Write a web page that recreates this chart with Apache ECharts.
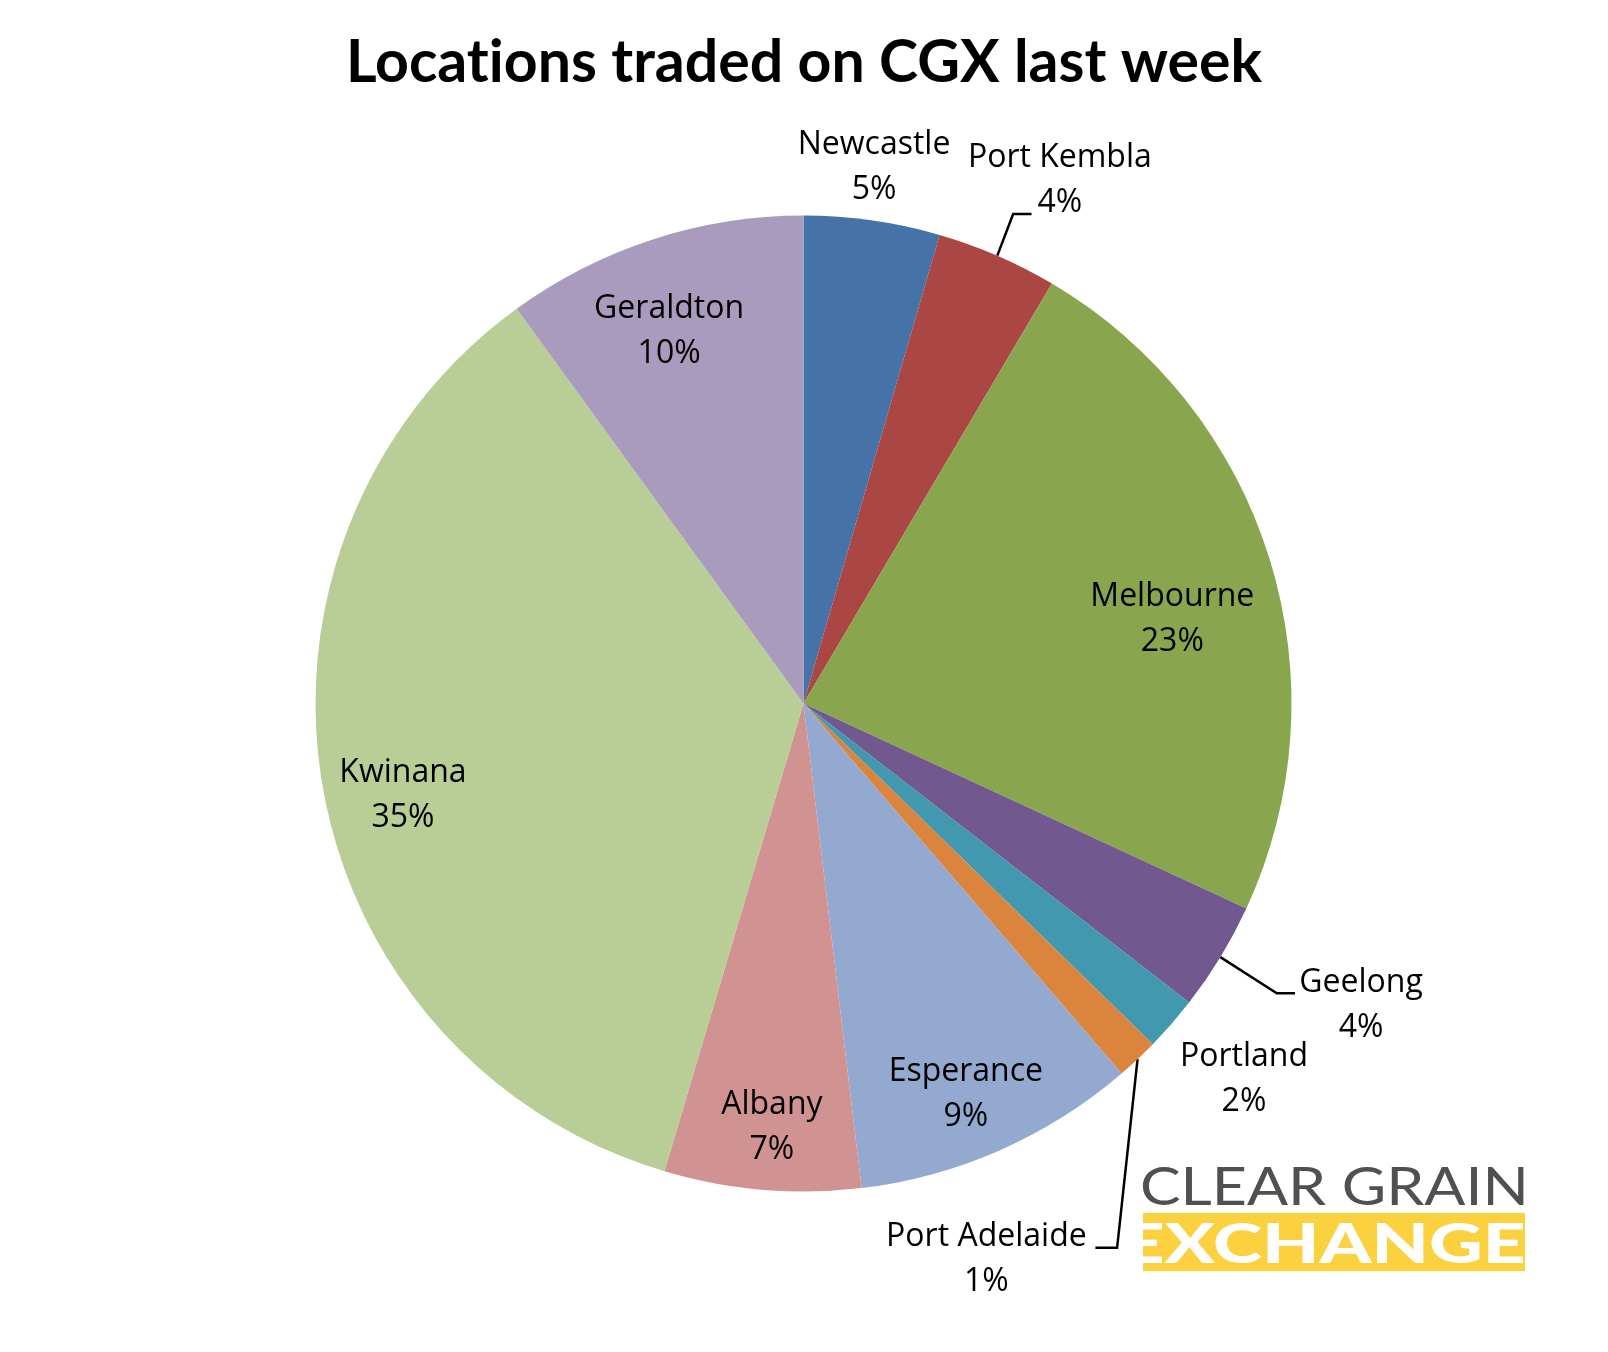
<!DOCTYPE html>
<html>
<head>
<meta charset="utf-8">
<script src="https://cdn.jsdelivr.net/npm/echarts@6/dist/echarts.min.js"></script>
<style>
html,body{margin:0;padding:0;background:#fff;}
#chart{width:1608px;height:1352px;}
</style>
</head>
<body>
<div id="chart"></div>
<script>
// ---- data ----
const categories = ['Newcastle', 'Port Kembla', 'Melbourne', 'Geelong', 'Portland',
                    'Port Adelaide', 'Esperance', 'Albany', 'Kwinana', 'Geraldton'];
const shares = [4.5, 4.0, 23.4, 3.6, 1.8, 1.4, 9.4, 6.5, 35.4, 10.0];
const sliceColors = ['#4572A7', '#AA4643', '#89A54E', '#71588F', '#4198AF',
                     '#DB843D', '#93A9CF', '#D19392', '#B9CD96', '#A99BBD'];
const titleParts = ['Locat', 'ions traded on CGX last week'];   // split only to avoid the "ti" ligature

// ---- layout / style (not data) ----
const CX = 803.5, CY = 703.5, R = 488;
// label placement: [angle shift from slice mid-angle (deg), distance as ratio of radius]
const labelPlacement = [[-0.6, 1.108], [2.7, 1.194], [4.5, 0.775], [-2.9, 1.299], [-0.6, 1.186],
                        [25.0, 1.2], [1.2, 0.867], [-0.6, 0.872], [-3.15, 0.842], [-1.85, 0.811]];
// leader line bend/end offsets relative to label centre (null = no leader)
const leaderOffsets = [null, [[-46.7, 33.8], [-28.3, 33.8]], null, [[-84.2, -12], [-66, -12]], null,
                       [[130.7, -12], [109, -12]], null, null, null, null];

const total = shares.reduce((a, b) => a + b, 0);
const midAngles = [];
(function () {
  let acc = 0;
  shares.forEach(v => {
    const a0 = acc / total * 360;
    acc += v;
    const a1 = acc / total * 360;
    midAngles.push((a0 + a1) / 2);
  });
})();

const rad = d => d * Math.PI / 180;

const chart = echarts.init(document.getElementById('chart'), null, {renderer: 'canvas'});

const titleFont = {fontFamily: 'Lato', fontWeight: 'bold', fontSize: 59, color: '#000'};

const option = {
  backgroundColor: '#ffffff',
  animation: false,
  title: {
    text: titleParts.map(s => '{t|' + s + '}').join(''),
    left: 'center',
    top: 28,
    textStyle: Object.assign({rich: {t: Object.assign({}, titleFont)}}, titleFont)
  },
  series: [{
    type: 'pie',
    center: [CX, CY],
    radius: [0, R],
    startAngle: 90,
    clockwise: true,
    avoidLabelOverlap: false,
    data: categories.map((name, i) => ({
      name: name,
      value: shares[i],
      itemStyle: {color: sliceColors[i]},
      labelLine: {show: leaderOffsets[i] !== null}
    })),
    itemStyle: {borderWidth: 0},
    label: {
      show: true,
      position: 'outside',
      formatter: p => p.name + '\n' + Math.round(p.percent) + '%',
      fontFamily: 'Open Sans',
      fontSize: 32,
      lineHeight: 45,
      color: '#000'
    },
    labelLine: {show: false, lineStyle: {color: '#000', width: 2.5}, smooth: false},
    labelLayout: function (params) {
      const i = params.dataIndex;
      const pl = labelPlacement[i];
      const a = rad(midAngles[i] + pl[0]);
      const lx = CX + pl[1] * R * Math.sin(a);
      const ly = CY - pl[1] * R * Math.cos(a);
      const out = {x: lx, y: ly, align: 'center', verticalAlign: 'middle'};
      const lo = leaderOffsets[i];
      if (lo) {
        const m = rad(midAngles[i]);
        out.labelLinePoints = [
          [CX + R * Math.sin(m), CY - R * Math.cos(m)],
          [lx + lo[0][0], ly + lo[0][1]],
          [lx + lo[1][0], ly + lo[1][1]]
        ];
      }
      return out;
    }
  }],
  graphic: [
    {
      type: 'text',
      x: 1140, y: 1161, scaleX: 1.147,
      style: {text: 'CLEAR GRAIN', fontFamily: 'Lato', fontWeight: 'normal', fontSize: 53,
              fill: '#505050', verticalAlign: 'top', align: 'left'}
    },
    {
      type: 'rect',
      shape: {x: 1143, y: 1213, width: 382, height: 58},
      style: {fill: '#FCD13F'}
    },
    {
      type: 'text',
      x: 1122, y: 1218, scaleX: 1.35,
      style: {text: 'EXCHANGE', fontFamily: 'Lato', fontWeight: 900, fontSize: 55,
              fill: '#ffffff', verticalAlign: 'top', align: 'left'}
    }
  ]
};
chart.setOption(option);
</script>
</body>
</html>
